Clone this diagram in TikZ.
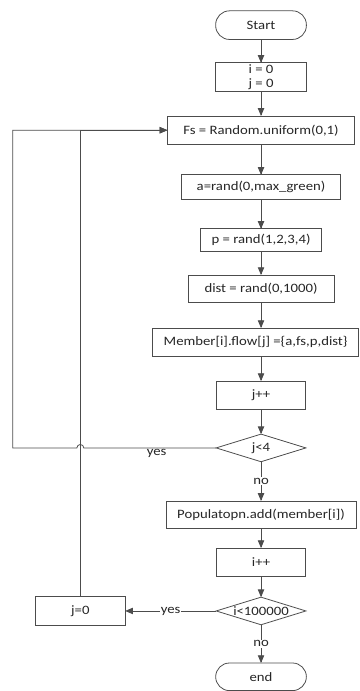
\documentclass[tikz,border=0pt]{standalone}
\usepackage{fontspec}
\setmainfont{Carlito}[FakeStretch=1.15]
\usetikzlibrary{arrows,shapes.geometric,calc}

\begin{document}
\begin{tikzpicture}
\tikzstyle{block} = [rectangle, draw=black!70, line width=0.8pt, text=black!85,
font=\fontsize{13pt}{15pt}\selectfont, align=center, inner sep=0pt,
minimum width=91pt, minimum height=29pt]
\tikzstyle{decision} = [diamond, draw=black!70, line width=0.8pt, text=black!85,
font=\fontsize{13pt}{15pt}\selectfont, inner sep=0pt,
minimum width=91pt, minimum height=28pt]
\tikzstyle{terminal} = [rectangle, rounded corners=14pt, draw=black!70, line width=0.8pt,
text=black!85, font=\fontsize{13pt}{15pt}\selectfont, minimum width=92pt, minimum height=29pt]
\tikzstyle{line} = [draw=black!70, line width=0.8pt, -triangle 45];
\tikzstyle{lbl} = [text=black!85, font=\fontsize{13pt}{15pt}\selectfont, inner sep=1pt];
\matrix [column sep=27pt,row sep=24pt,inner sep=0pt,outer sep=0pt]
{
% row 1
& \node [terminal] (start) {Start}; \\[-1pt]
& \node [block, minimum width=92pt] (init) {i = 0\\ j = 0}; \\
& \node [block, minimum width=190pt] (fs) {Fs = Random.uniform(0,1)}; \\[6pt]
& \node [block, minimum width=162pt, minimum height=25pt] (arand) {a=rand(0,max\_green)}; \\[5pt]
& \node [block, minimum width=123pt, minimum height=23pt] (prand) {p = rand(1,2,3,4)}; \\[-1pt]
& \node [block, minimum width=148pt, minimum height=28pt] (dist) {dist = rand(0,1000)}; \\[1pt]
& \node [block, minimum width=209pt, xshift=-5.5pt] (member) {Member[i].flow[j] =\{a,fs,p,dist\}}; \\
& \node [block] (jinc) {j++}; \\
& \node [decision] (jtest) {\makebox[0pt]{j<4}}; \\[15pt]
% row 10
& \node [block, minimum width=193pt, minimum height=28pt] (popadd) {Populatopn.add(member[i])}; \\[-5pt]
& \node [block] (iinc) {i++}; \\[-5pt]
\node [block, minimum height=30pt] (jzero) {j=0}; &
\node [decision] (itest) {\makebox[0pt]{i<100000}}; \\[13pt]
& \node [terminal, minimum height=28pt] (stop) {end}; \\
% row 13
};
\coordinate (loopx) at ($(jzero.west)+(-23pt,0)$);
\coordinate (hopr) at ($(jzero.center |- jtest.west)+(3.5pt,0)$);
\path[use as bounding box] ($(jzero.west |- start.north)+(-36pt,11pt)$) rectangle ($(member.east |- stop.south)+(0.4pt,0.4pt)$);
\tikzstyle{every path}=[line]
\path (start) -- (init);
\path (init) -- (fs);
\path (fs) -- (arand);
\path (arand) -- (prand);
\path (prand) -- (dist);
\path (dist) -- (dist |- member.north);
\path (member.south -| jinc) -- (jinc);
\path (jinc) -- (jtest);
\path (jtest) -- node [lbl, fill=white, midway] {no} (popadd);
\path (popadd) -- (iinc);
\path (iinc) -- (itest);
\path (itest) -- node [lbl, fill=white, midway] {no} (stop);
\path (itest) -- node [lbl, fill=white, midway] {yes} (jzero);
\path (jzero.north) |- (fs.west);
\path (jtest.west) -- node [lbl, below, pos=0.45] {yes} (hopr)
  arc [start angle=0, end angle=180, radius=3.5pt] -- (loopx |- jtest.west) -- (loopx |- fs.west) -- (fs.west);
\end{tikzpicture}
\end{document}
